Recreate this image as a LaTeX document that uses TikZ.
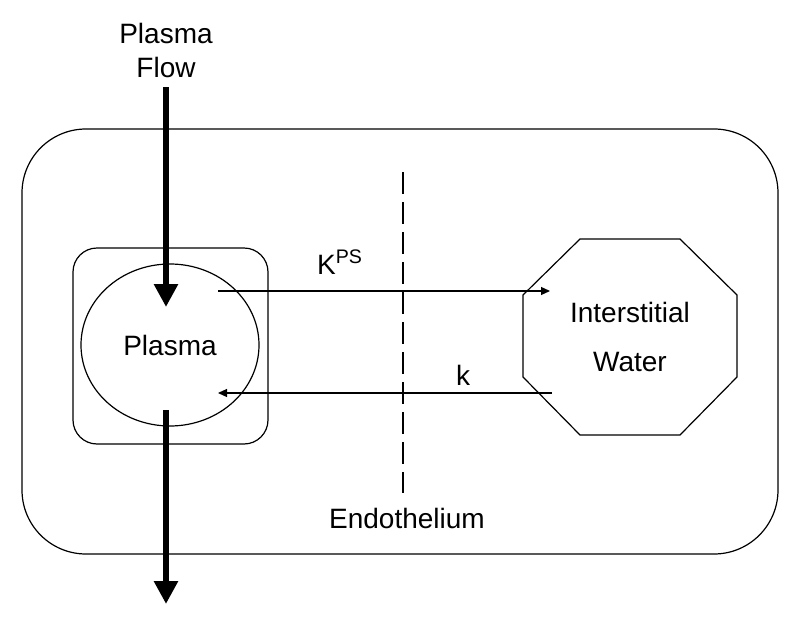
\documentclass[tikz,border=0pt]{standalone}
\usepackage{fontspec}
\setmainfont{Liberation Sans}
\usetikzlibrary{arrows.meta}
\usetikzlibrary{shapes.geometric}
\usetikzlibrary{positioning}

\begin{document}
\begin{tikzpicture}[x=0.5pt, y=-0.5pt, line width=0.6pt,
every node/.style={font=\fontsize{14}{17}\selectfont, inner sep=0pt},
flow/.style={line width=3pt, -{Triangle[length=11.5pt, width=11.5pt]}},
rate/.style={-{Triangle[length=4.5pt, width=4pt]}}]
\useasboundingbox (0,0) rectangle (800,627);
\draw[rounded corners=32pt] (22,129) rectangle (778,554);
% plasma compartment
\node[draw, rounded corners=12pt, minimum width=97.5pt, minimum height=98pt] (vessel) at (170.5,346) {};
\node[draw, ellipse, minimum width=89pt, minimum height=81pt] (plasma) at (170,345) {Plasma};
% interstitial compartment
\node[align=center] (isf) at (630,337) {Interstitial\\[7.5pt]Water};
\draw (523,295) -- (580,239) -- (680,239) -- (737,295) -- (737,377) -- (680,435) -- (580,435) -- (523,377) -- cycle;
% endothelium
\node (endo) at (407,518) {Endothelium};
\coordinate (wtop) at (403,172);
\coordinate (wbot) at (403,493);
\draw[line width=1pt, dash pattern=on 11pt off 4pt] (wtop) -- (wbot);
% plasma flow
\node[align=center] (flowlabel) at (166,50) {Plasma\\Flow};
\coordinate (inlet) at (166,87);
\coordinate (inflow) at (166,307);
\coordinate (outflow) at (166,410);
\coordinate (outlet) at (166,604);
\draw[flow] (inlet) -- (inflow);
\draw[flow] (outflow) -- (outlet);
% exchange
\coordinate (kpsout) at (218,291);
\coordinate (kpsin) at (550,291);
\coordinate (kout) at (552,393);
\coordinate (kin) at (218,393);
\draw[rate] (kpsout) -- (kpsin);
\draw[rate] (kout) -- (kin);
\node (kps) at (340,262) {K\textsuperscript{PS}};
\node (kback) at (463,375) {k};
\end{tikzpicture}
\end{document}
